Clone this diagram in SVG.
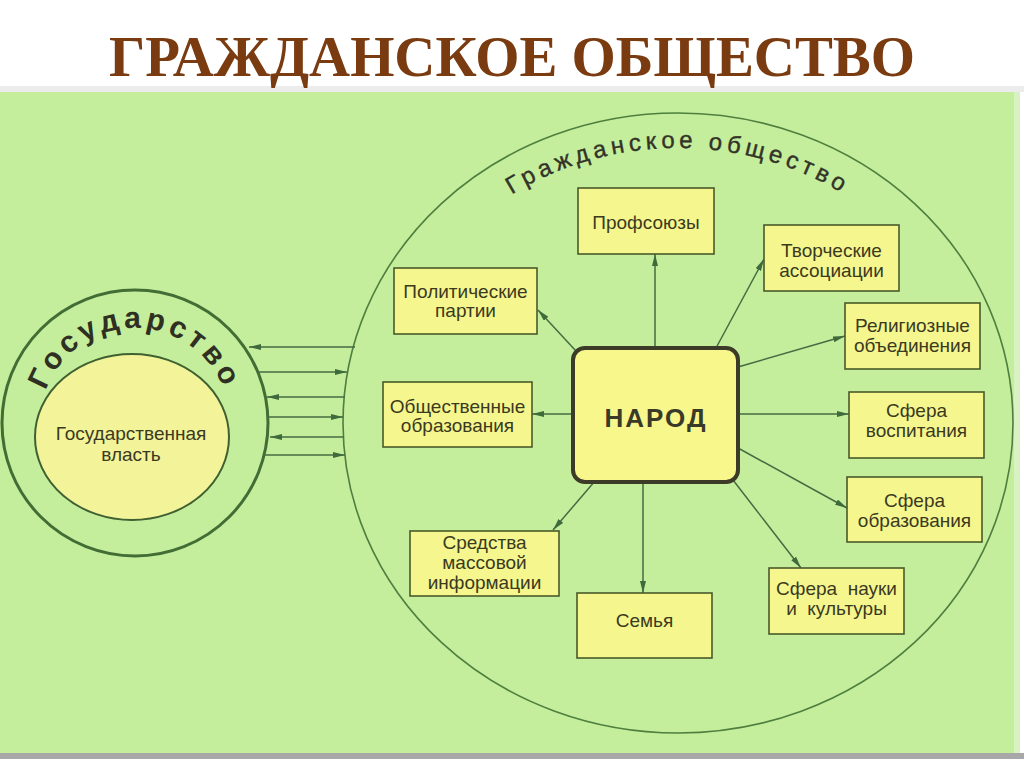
<svg xmlns="http://www.w3.org/2000/svg" xmlns:xlink="http://www.w3.org/1999/xlink" width="1024" height="767" viewBox="0 0 1024 767">
<style>
.box{fill:#f6f68e;stroke:#4a5a2a;stroke-width:1.6}
.bt{font-family:"Liberation Sans",Arial,sans-serif;font-size:19px;fill:#3a3a1e;text-anchor:middle}
.con{stroke:#466b42;stroke-width:1.5;fill:none;marker-end:url(#ah)}
</style>
<defs>
<marker id="ah" viewBox="0 0 12 6" refX="12" refY="3" markerWidth="12" markerHeight="6" markerUnits="userSpaceOnUse" orient="auto">
<path d="M0,0 L12,3 L0,6 z" fill="#3f6a3c"/>
</marker>
<path id="gpath" d="M 40 423 A 95 95 0 0 1 230 423"/>
<path id="cpath" d="M 379 423 A 299 275 0 0 1 977 423"/>
</defs>
<rect x="0" y="0" width="1024" height="767" fill="#ffffff"/>
<rect x="0" y="86" width="1024" height="6" fill="#ececec"/>
<rect x="0" y="92" width="1018" height="661" fill="#c4ee9c"/>
<rect x="1014" y="92" width="6" height="661" fill="#d8f2c4"/>
<rect x="0" y="753" width="1024" height="6" fill="#a8a8a8"/>
<text x="512" y="76" text-anchor="middle" font-family="Liberation Serif,Times New Roman,serif" font-weight="bold" font-size="56" fill="#7a3b10" textLength="806" lengthAdjust="spacingAndGlyphs">ГРАЖДАНСКОЕ ОБЩЕСТВО</text>

<g id="state">
<circle cx="135" cy="423" r="133" fill="#c4ee9c" stroke="#426e36" stroke-width="3"/>
<ellipse cx="132" cy="437" rx="97" ry="83" fill="#f3f39a" stroke="#3f6030" stroke-width="2"/>
<text font-family="Liberation Sans,Arial,sans-serif" font-weight="bold" font-size="30" fill="#2f2f22" letter-spacing="4"><textPath xlink:href="#gpath" href="#gpath" startOffset="50%" text-anchor="middle">Государство</textPath></text>
<text class="bt" x="131" y="440">Государственная</text>
<text class="bt" x="131" y="461">власть</text>
</g>

<g id="civil-society">
<ellipse cx="678" cy="423" rx="335" ry="310" fill="none" stroke="#4f7f3f" stroke-width="1.6"/>
<text font-family="Liberation Sans,Arial,sans-serif" font-size="24" fill="#333328" stroke="#333328" stroke-width="0.4" letter-spacing="4.5"><textPath xlink:href="#cpath" href="#cpath" startOffset="50%" text-anchor="middle">Гражданское общество</textPath></text>
</g>

<g id="connectors">
<line class="con" x1="355" y1="347" x2="249" y2="347"/>
<line class="con" x1="258" y1="372" x2="347" y2="372"/>
<line class="con" x1="345" y1="397" x2="267" y2="397"/>
<line class="con" x1="268" y1="417" x2="343" y2="417"/>
<line class="con" x1="344" y1="437" x2="270" y2="437"/>
<line class="con" x1="265" y1="455" x2="345" y2="455"/>
<line class="con" x1="655" y1="348" x2="655" y2="254"/>
<line class="con" x1="576" y1="351" x2="538" y2="310"/>
<line class="con" x1="573" y1="414" x2="532" y2="414"/>
<line class="con" x1="595" y1="481" x2="553" y2="530"/>
<line class="con" x1="643" y1="482" x2="643" y2="593"/>
<line class="con" x1="733" y1="480" x2="801" y2="568"/>
<line class="con" x1="738" y1="448" x2="847" y2="508"/>
<line class="con" x1="738" y1="414" x2="849" y2="414"/>
<line class="con" x1="738" y1="367" x2="845" y2="336"/>
<line class="con" x1="716" y1="348" x2="764" y2="259"/>
</g>

<g id="narod">
<rect x="573" y="348" width="165" height="134" rx="12" fill="#f7f78c" stroke="#3b3b28" stroke-width="4"/>
<text x="656" y="427" text-anchor="middle" font-family="Liberation Sans,Arial,sans-serif" font-weight="bold" font-size="26" letter-spacing="2" fill="#3a3a28">НАРОД</text>
</g>

<g id="profsoyuzy">
<rect class="box" x="578" y="188" width="136" height="66"/>
<text class="bt" x="646" y="229">Профсоюзы</text>
</g>
<g id="tvorcheskie">
<rect class="box" x="764" y="225" width="135" height="66"/>
<text class="bt" x="831.5" y="257">Творческие</text>
<text class="bt" x="831.5" y="277">ассоциации</text>
</g>
<g id="religioznye">
<rect class="box" x="845" y="303" width="135" height="66"/>
<text class="bt" x="912.5" y="332">Религиозные</text>
<text class="bt" x="912.5" y="352">объединения</text>
</g>
<g id="vospitanie">
<rect class="box" x="849" y="392" width="135" height="66"/>
<text class="bt" x="916.5" y="417">Сфера</text>
<text class="bt" x="916.5" y="437">воспитания</text>
</g>
<g id="obrazovanie">
<rect class="box" x="847" y="477" width="135" height="65"/>
<text class="bt" x="914.5" y="507">Сфера</text>
<text class="bt" x="914.5" y="527">образования</text>
</g>
<g id="nauka">
<rect class="box" x="769" y="568" width="135" height="66"/>
<text class="bt" x="836.5" y="595">Сфера&#160; науки</text>
<text class="bt" x="836.5" y="615">и&#160; культуры</text>
</g>
<g id="semya">
<rect class="box" x="577" y="593" width="135" height="65"/>
<text class="bt" x="644.5" y="627">Семья</text>
</g>
<g id="smi">
<rect class="box" x="410" y="531" width="149" height="65"/>
<text class="bt" x="484.5" y="549">Средства</text>
<text class="bt" x="484.5" y="569">массовой</text>
<text class="bt" x="484.5" y="589">информации</text>
</g>
<g id="obshchestvennye">
<rect class="box" x="383" y="382" width="149" height="65"/>
<text class="bt" x="457.5" y="413">Общественные</text>
<text class="bt" x="457.5" y="432">образования</text>
</g>
<g id="partii">
<rect class="box" x="394" y="268" width="143" height="66"/>
<text class="bt" x="465.5" y="298">Политические</text>
<text class="bt" x="465.5" y="317">партии</text>
</g>
</svg>
